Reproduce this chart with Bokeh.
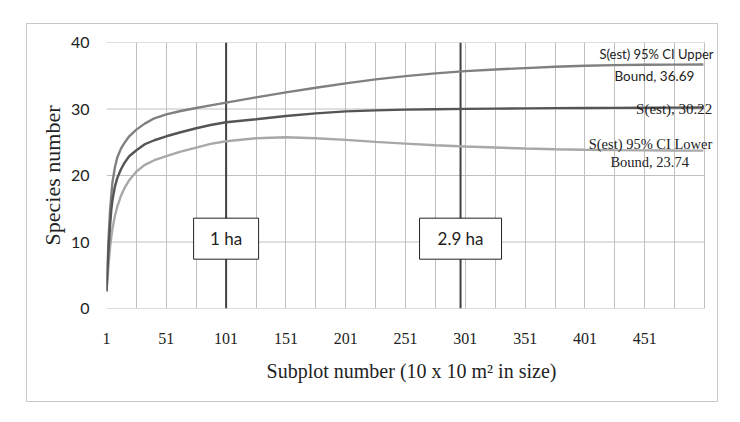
from bokeh.plotting import figure
from bokeh.models import Range1d, FixedTicker, Label
from bokeh.core.properties import value
from bokeh.embed import file_html
from bokeh.resources import INLINE

# ---- data ----
subplot = [1, 2, 3, 4, 5, 6, 8, 10, 13, 16, 20, 26, 33, 41, 51, 63, 76, 88, 101,
           126, 151, 176, 201, 226, 251, 276, 301, 326, 351, 376, 401, 426, 451, 476, 500]
s_upper = [2.7, 7.5, 11.5, 14.8, 17.0, 19.0, 21.2, 22.7, 24.0, 24.9, 25.9, 26.9, 27.8, 28.6, 29.2,
           29.7, 30.15, 30.55, 30.95, 31.75, 32.5, 33.2, 33.85, 34.45, 34.95, 35.35, 35.7, 35.95,
           36.15, 36.35, 36.5, 36.6, 36.65, 36.68, 36.69]
s_est = [2.6, 6.5, 9.8, 12.5, 14.8, 16.3, 18.3, 19.6, 20.9, 21.9, 22.9, 23.8, 24.7, 25.3, 25.9,
         26.5, 27.1, 27.6, 28.0, 28.45, 28.95, 29.35, 29.65, 29.8, 29.9, 29.97, 30.02, 30.06, 30.1,
         30.13, 30.15, 30.17, 30.19, 30.21, 30.22]
s_lower = [2.5, 4.8, 7.2, 9.2, 10.8, 12.0, 13.9, 15.3, 16.9, 18.1, 19.3, 20.6, 21.6, 22.3, 22.9,
           23.6, 24.2, 24.75, 25.15, 25.6, 25.75, 25.6, 25.35, 25.05, 24.8, 24.55, 24.35, 24.2,
           24.05, 23.95, 23.88, 23.82, 23.78, 23.75, 23.74]

x_tick_values = [1, 51, 101, 151, 201, 251, 301, 351, 401, 451]
x_grid_values = list(range(1, 502, 25))
y_tick_values = [0, 10, 20, 30, 40]
x_last = 501

marker_x = [101, 297]
marker_text = ["1 ha", "2.9 ha"]
marker_box_w = [65, 82]
marker_label_y = 10.5

end_upper = ["S(est) 95% CI Upper", "Bound, 36.69"]
end_est = "S(est), 30.22"
end_lower = ["S(est) 95% CI Lower", "Bound, 23.74"]

SANS = "Lato"
SERIF = "Liberation Serif"
GRID = "#c0c0c0"
TXT = "#222222"

p = figure(width=692, height=379, output_backend="svg", toolbar_location=None,
           x_range=Range1d(1, 511), y_range=Range1d(0, 40),
           min_border_left=80, min_border_right=2, min_border_top=19, min_border_bottom=94)
p.margin = (23, 22, 20, 26)
p.styles = {"box-shadow": "inset 0 0 0 1px #c8c8c8"}
p.background_fill_color = None
p.border_fill_color = None
p.outline_line_color = None

# vertical grid (ends at last subplot), horizontal grid drawn as segments
p.xgrid.ticker = FixedTicker(ticks=x_grid_values)
p.xgrid.grid_line_color = GRID
p.xgrid.grid_line_width = 1
p.ygrid.grid_line_color = None
p.segment(x0=[1] * len(y_tick_values), y0=y_tick_values,
          x1=[x_last] * len(y_tick_values), y1=y_tick_values,
          line_color=GRID, line_width=1)

# axes
p.xaxis.ticker = FixedTicker(ticks=x_tick_values)
p.yaxis.ticker = FixedTicker(ticks=y_tick_values)
for ax in (p.xaxis[0], p.yaxis[0]):
    ax.axis_line_color = None
    ax.major_tick_line_color = None
    ax.minor_tick_line_color = None
    ax.major_tick_out = 0
    ax.major_tick_in = 0
    ax.minor_tick_out = 0
    ax.major_label_text_color = TXT
    ax.axis_label_text_color = TXT
    ax.axis_label_text_font_style = "normal"

p.xaxis.major_label_text_font = SERIF
p.xaxis.major_label_text_font_size = "16px"
p.xaxis.major_label_standoff = 24
p.xaxis.axis_label = "Subplot number (10 x 10 m\u00b2 in size)"
p.xaxis.axis_label_text_font = SERIF
p.xaxis.axis_label_text_font_size = "20px"
p.xaxis.axis_label_standoff = 13

p.yaxis.major_label_text_font = SANS
p.yaxis.major_label_text_font_size = "16px"
p.yaxis.major_label_standoff = 17
p.yaxis.axis_label = "Species number"
p.yaxis.axis_label_text_font = SERIF
p.yaxis.axis_label_text_font_size = "22px"
p.yaxis.axis_label_standoff = 3

# marker vertical lines (glyphs, so the label boxes can cover them)
p.segment(x0=marker_x, y0=[0, 0], x1=marker_x, y1=[40, 40], line_color="#404040", line_width=2)

# curves
p.line(subplot, s_upper, line_color="#808080", line_width=2.4)
p.line(subplot, s_lower, line_color="#a8a8a8", line_width=2.4)
p.line(subplot, s_est, line_color="#555555", line_width=2.4)

# marker boxes
p.rect(x=marker_x, y=[marker_label_y] * 2, width=marker_box_w, height=41, width_units="screen",
       height_units="screen", fill_color="white", line_color=TXT, line_width=1)
p.text(x=marker_x, y=[marker_label_y] * 2, text=marker_text, text_font=value(SANS),
       text_font_size="17px", text_align="center", text_baseline="middle", text_color=TXT)

# end labels
p.add_layout(Label(x=508.5, y=38.2, text=end_upper[0], text_font=SANS, text_font_size="13px",
                   text_align="right", text_baseline="middle", text_color=TXT))
p.add_layout(Label(x=492.5, y=35.0, text=end_upper[1], text_font=SANS, text_font_size="13.5px",
                   text_align="right", text_baseline="middle", text_color=TXT))
p.add_layout(Label(x=507.5, y=29.95, text=end_est, text_font=SERIF, text_font_size="15px",
                   text_align="right", text_baseline="middle", text_color=TXT))
p.add_layout(Label(x=507.5, y=24.8, text=end_lower[0], text_font=SERIF, text_font_size="14.5px",
                   text_align="right", text_baseline="middle", text_color=TXT))
p.add_layout(Label(x=488, y=22.0, text=end_lower[1], text_font=SERIF, text_font_size="14.5px",
                   text_align="right", text_baseline="middle", text_color=TXT))

open("out.html", "w").write(file_html(p, INLINE))
